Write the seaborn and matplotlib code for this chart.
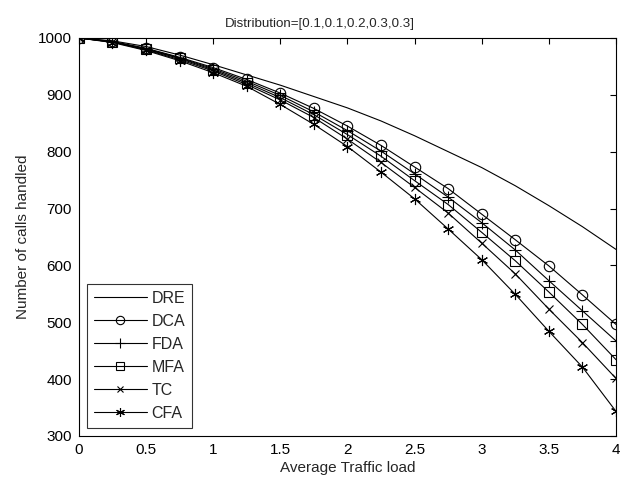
import numpy as np
import pandas as pd
import matplotlib
matplotlib.use('Agg')
import matplotlib.pyplot as plt
import seaborn as sns

# Data
load = [0, 0.25, 0.5, 0.75, 1, 1.25, 1.5, 1.75, 2, 2.25, 2.5, 2.75, 3, 3.25, 3.5, 3.75, 4]
dre = [1000, 995, 985, 970, 953, 935, 917, 897, 877, 854, 828, 800, 772, 740, 705, 668, 628]
dca = [1000, 994, 982, 966, 948, 927, 903, 876, 845, 811, 773, 735, 690, 645, 599, 548, 496]
fda = [1000, 993, 981, 965, 946, 924, 899, 870, 837, 801, 761, 720, 675, 627, 573, 520, 467]
mfa = [1000, 993, 980, 964, 944, 921, 895, 865, 830, 792, 749, 707, 658, 608, 553, 496, 434]
tc = [1000, 993, 979, 962, 942, 918, 891, 860, 822, 781, 737, 692, 639, 585, 523, 464, 401]
cfa = [1000, 992, 978, 960, 939, 915, 883, 848, 809, 764, 717, 664, 610, 549, 484, 421, 343]

series = {'DRE': dre, 'DCA': dca, 'FDA': fda, 'MFA': mfa, 'TC': tc, 'CFA': cfa}
markers = {'DRE': None, 'DCA': 'o', 'FDA': '+', 'MFA': 's', 'TC': 'x', 'CFA': (6, 2, 0)}
msizes = {'DRE': 0, 'DCA': 7.5, 'FDA': 9, 'MFA': 7.5, 'TC': 5.5, 'CFA': 8}

sns.set_style('white')
plt.rcParams['font.family'] = ['Liberation Sans', 'DejaVu Sans']

fig = plt.figure(figsize=(6.21, 4.87), dpi=100)
ax = fig.add_axes([0.127, 0.105, 0.865, 0.817])

for name, vals in series.items():
    df = pd.DataFrame({'load': load, 'calls': vals})
    sns.lineplot(data=df, x='load', y='calls', ax=ax, color='black', linewidth=0.8,
                 marker=markers[name], markersize=msizes[name], markerfacecolor='none',
                 markeredgecolor='black', markeredgewidth=0.8, label=name)

ax.set_xlim(0, 4)
ax.set_ylim(300, 1000)
ax.set_xticks([0, 0.5, 1, 1.5, 2, 2.5, 3, 3.5, 4])
ax.set_xticklabels(['0', '0.5', '1', '1.5', '2', '2.5', '3', '3.5', '4'])
ax.set_yticks(range(300, 1001, 100))
ax.tick_params(direction='in', length=4, width=0.8, labelsize=11, top=True, right=True,
               colors='black', pad=5)
for s in ax.spines.values():
    s.set_visible(True)
    s.set_color('black')
    s.set_linewidth(0.8)

ax.set_xlabel('Average Traffic load', fontsize=11, labelpad=3)
ax.set_ylabel('Number of calls handled', fontsize=11, labelpad=6)
ax.set_title('Distribution=[0.1,0.1,0.2,0.3,0.3]', fontsize=9.6, x=0.449, pad=8)

leg = ax.legend(loc='lower left', bbox_to_anchor=(0.015, 0.02), borderaxespad=0,
                fontsize=11.5, frameon=True, fancybox=False, edgecolor='black',
                handlelength=3.3, handletextpad=0.3, labelspacing=0.5, borderpad=0.45,
                markerscale=0.8)
leg.get_frame().set_linewidth(0.8)

fig.savefig('out.png', dpi=100)
